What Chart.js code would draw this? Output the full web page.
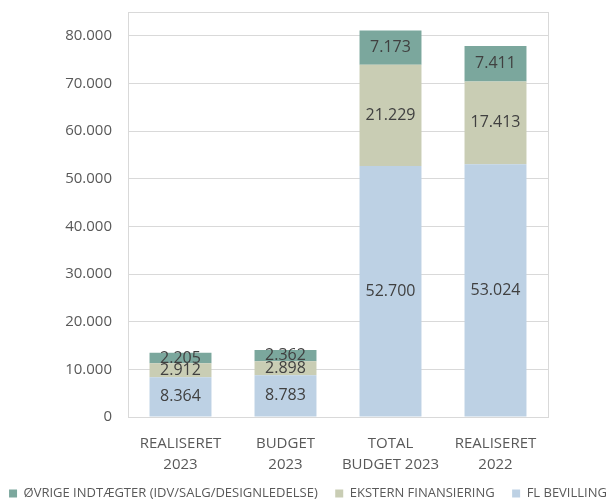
<!DOCTYPE html>
<html lang="da">
<head>
  <meta charset="UTF-8">
  <title>Indtægter</title>
  <style>
    body { margin: 0; padding: 0; background: #fff; }
    #wrap { width: 616px; height: 500px; }
  </style>
</head>
<body>
  <div id="wrap"><canvas id="chart" width="616" height="500"></canvas></div>

  <script src="https://cdn.jsdelivr.net/npm/chart.js"></script>
  <script>
    // kategorier og serier
    const categories = [['REALISERET', '2023'], ['BUDGET', '2023'], ['TOTAL', 'BUDGET 2023'], ['REALISERET', '2022']];
    const flBevilling = [8364, 8783, 52700, 53024];
    const eksternFin = [2912, 2898, 21229, 17413];
    const oevrige = [2205, 2362, 7173, 7411];
    const seriesNames = ['FL BEVILLING', 'EKSTERN FINANSIERING', 'ØVRIGE INDTÆGTER (IDV/SALG/DESIGNLEDELSE)'];
    const yTicks = [0, 10000, 20000, 30000, 40000, 50000, 60000, 70000, 80000];
    const yMax = 85000;

    const fmt = v => String(Math.round(v)).replace(/\B(?=(\d{3})+(?!\d))/g, '.');
    const font = "'Open Sans', 'Liberation Sans', sans-serif";

    // tal midt i hver stabel-del
    const barLabels = {
      id: 'barLabels',
      afterDatasetsDraw(chart) {
        const ctx = chart.ctx;
        ctx.save();
        ctx.font = '16px ' + font;
        ctx.fillStyle = '#404040';
        ctx.textAlign = 'center';
        ctx.textBaseline = 'middle';
        chart.data.datasets.forEach((ds, i) => {
          chart.getDatasetMeta(i).data.forEach((bar, j) => {
            const mid = (bar.y + bar.base) / 2;
            ctx.fillText(fmt(ds.data[j]), bar.x, mid);
          });
        });
        ctx.restore();
      }
    };

    // ramme om plotområdet
    const plotBox = {
      id: 'plotBox',
      beforeDatasetsDraw(chart) {
        const a = chart.chartArea, ctx = chart.ctx;
        ctx.save();
        ctx.strokeStyle = '#d9d9d9';
        ctx.lineWidth = 1;
        ctx.strokeRect(Math.round(a.left) + 0.5, Math.round(a.top) + 0.5, Math.round(a.right - a.left), Math.round(a.bottom - a.top));
        ctx.restore();
      }
    };

    new Chart(document.getElementById('chart').getContext('2d'), {
      type: 'bar',
      data: {
        labels: categories,
        datasets: [
          { label: seriesNames[0], data: flBevilling, backgroundColor: '#bdd1e4' },
          { label: seriesNames[1], data: eksternFin, backgroundColor: '#c9cdb4' },
          { label: seriesNames[2], data: oevrige, backgroundColor: '#7ba79d' }
        ]
      },
      options: {
        responsive: false,
        animation: false,
        barPercentage: 0.59,
        categoryPercentage: 1,
        layout: { padding: { left: 0, right: 0, top: 12, bottom: -10 } },
        plugins: {
          tooltip: { enabled: false },
          legend: {
            position: 'bottom',
            reverse: true,
            labels: {
              boxWidth: 8, boxHeight: 8, padding: 4,
              color: '#595959',
              font: { family: font, size: 13 },
              // ekstra luft mellem punkterne
              generateLabels: chart => Chart.defaults.plugins.legend.labels.generateLabels(chart)
                .map(l => (l.datasetIndex > 0 ? Object.assign(l, { text: l.text + '    ' }) : l))
            }
          }
        },
        scales: {
          x: {
            stacked: true,
            grid: { display: false },
            border: { color: '#d9d9d9' },
            ticks: { color: '#595959', font: { family: font, size: 15, lineHeight: 1.4 }, padding: 8 }
          },
          y: {
            stacked: true,
            min: 0, max: yMax,
            afterBuildTicks: axis => { axis.ticks = yTicks.map(v => ({ value: v })); },
            afterFit: axis => { axis.width = 128; axis.paddingTop = 0; axis.paddingBottom = 0; },
            grid: { color: '#d9d9d9', drawTicks: false },
            border: { display: false },
            ticks: {
              color: '#595959', font: { family: font, size: 15 }, padding: 16,
              callback: v => fmt(v)
            }
          },
          yRight: {
            position: 'right',
            min: 0, max: yMax,
            afterFit: axis => { axis.width = 68; axis.paddingTop = 0; axis.paddingBottom = 0; },
            grid: { display: false },
            border: { display: false },
            ticks: { display: false }
          }
        }
      },
      plugins: [plotBox, barLabels]
    });
  </script>
</body>
</html>
